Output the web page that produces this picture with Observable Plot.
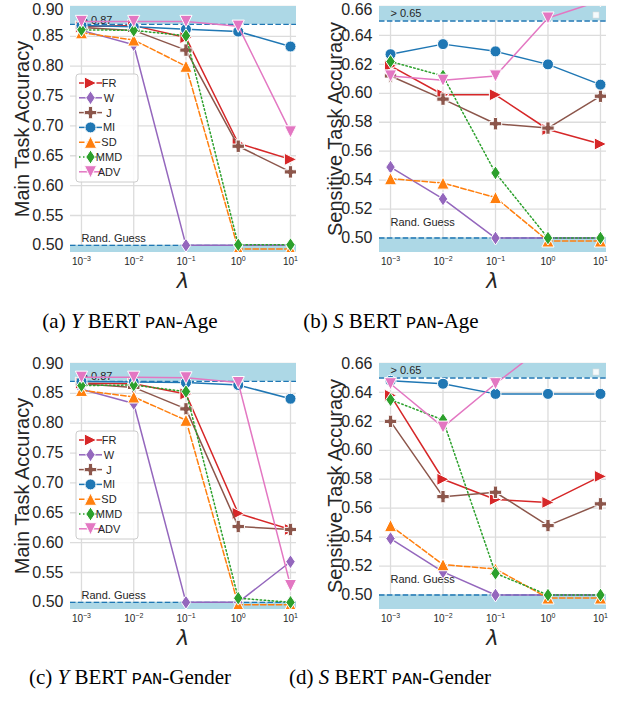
<!DOCTYPE html>
<html><head><meta charset="utf-8">
<script src="https://cdn.jsdelivr.net/npm/d3@7"></script>
<script src="https://cdn.jsdelivr.net/npm/@observablehq/plot@0.6"></script>
<style>
body{margin:0;background:#fff;}
#root{position:relative;width:622px;height:706px;overflow:hidden;font-family:"Liberation Sans",Arial,sans-serif;}
.panel{position:absolute;}
.cap{position:absolute;font-family:"Liberation Serif","Times New Roman",serif;font-size:21px;line-height:21px;color:#000;white-space:nowrap;transform:translateX(-50%);}
.cap .tt{font-family:"Liberation Mono",monospace;font-size:17px;}
</style></head><body><div id="root"></div>
<script>
// ---- data ----
const lambdas = [1e-3, 1e-2, 1e-1, 1, 10];
const methods = ["FR", "W", "J", "MI", "SD", "MMD", "ADV"];
const colors = ["#d62728", "#9467bd", "#8c564b", "#1f77b4", "#ff7f0e", "#2ca02c", "#e377c2"];
const markerKinds = ["triRight", "thinDiamond", "plus", "circle", "triUp", "thinDiamond", "triDown"];
const dashKinds = ["solid", "solid", "solid", "solid", "dashed", "dotted", "solid"];

// rows follow methods order; columns follow lambdas
const ageMain = [
  [0.866, 0.868, 0.848, 0.671, 0.644],
  [0.860, 0.836, 0.500, 0.500, 0.500],
  [0.865, 0.860, 0.827, 0.666, 0.623],
  [0.868, 0.866, 0.862, 0.858, 0.833],
  [0.856, 0.844, 0.800, 0.494, 0.494],
  [0.861, 0.860, 0.851, 0.501, 0.501],
  [0.875, 0.875, 0.875, 0.867, 0.690]
];
const ageSens = [
  [0.619, 0.599, 0.599, 0.575, 0.565],
  [0.549, 0.527, 0.500, 0.500, 0.500],
  [0.612, 0.596, 0.579, 0.576, 0.598],
  [0.627, 0.634, 0.629, 0.620, 0.606],
  [0.541, 0.538, 0.528, 0.498, 0.498],
  [0.622, 0.612, 0.545, 0.500, 0.500],
  [0.612, 0.609, 0.612, 0.652, 0.664]
];
const genderMain = [
  [0.867, 0.866, 0.849, 0.649, 0.622],
  [0.857, 0.833, 0.500, 0.500, 0.568],
  [0.866, 0.860, 0.824, 0.627, 0.622],
  [0.870, 0.869, 0.868, 0.864, 0.841],
  [0.855, 0.844, 0.805, 0.496, 0.496],
  [0.863, 0.864, 0.853, 0.507, 0.500],
  [0.877, 0.877, 0.876, 0.868, 0.528]
];
const genderSens = [
  [0.638, 0.580, 0.566, 0.564, 0.582],
  [0.539, 0.516, 0.500, 0.500, 0.500],
  [0.620, 0.568, 0.571, 0.548, 0.563],
  [0.648, 0.646, 0.639, 0.639, 0.639],
  [0.548, 0.521, 0.518, 0.498, 0.498],
  [0.635, 0.621, 0.515, 0.500, 0.500],
  [0.646, 0.616, 0.646, 0.674, 0.680]
];
const mainTicks = [0.50, 0.55, 0.60, 0.65, 0.70, 0.75, 0.80, 0.85, 0.90];
const sensTicks = [0.50, 0.52, 0.54, 0.56, 0.58, 0.60, 0.62, 0.64, 0.66];
const mainUpper = 0.87, sensUpper = 0.65, randGuess = 0.50;
const captions = [
  ["(a) ", "Y", "Age"], ["(b) ", "S", "Age"], ["(c) ", "Y", "Gender"], ["(d) ", "S", "Gender"]
];

// ---- symbols (matplotlib-like markers) ----
function rOf(size) { return Math.sqrt(size / Math.PI); }
const symbols = {
  circle: { draw(c, s) { const r = rOf(s) * 0.96; c.moveTo(r, 0); c.arc(0, 0, r, 0, 2 * Math.PI); } },
  triUp: { draw(c, s) { const h = rOf(s) * 1.06; c.moveTo(0, -h); c.lineTo(h, h); c.lineTo(-h, h); c.closePath(); } },
  triDown: { draw(c, s) { const h = rOf(s) * 1.06; c.moveTo(0, h); c.lineTo(h, -h); c.lineTo(-h, -h); c.closePath(); } },
  triRight: { draw(c, s) { const h = rOf(s) * 1.06; c.moveTo(h, 0); c.lineTo(-h, h); c.lineTo(-h, -h); c.closePath(); } },
  thinDiamond: { draw(c, s) { const r = rOf(s); const hh = r * 1.22, hw = r * 0.82; c.moveTo(0, -hh); c.lineTo(hw, 0); c.lineTo(0, hh); c.lineTo(-hw, 0); c.closePath(); } },
  plus: { draw(c, s) { const r = rOf(s); const e = r * 1.08, t = r * 0.37;
    c.moveTo(-t, -e); c.lineTo(t, -e); c.lineTo(t, -t); c.lineTo(e, -t); c.lineTo(e, t); c.lineTo(t, t);
    c.lineTo(t, e); c.lineTo(-t, e); c.lineTo(-t, t); c.lineTo(-e, t); c.lineTo(-e, -t); c.lineTo(-t, -t); c.closePath(); } }
};
const dashArr = { solid: null, dashed: "5.5,2.4", dotted: "1.5,2.5" };
const R = 5.75;

const root = document.getElementById("root");
const W = 311, H = 300;
const M = { top: 6, bottom: 48 };
const xDomain = [10 ** -3.21, 10 ** 1.115];

function makePanel(values, cfg) {
  const yTicks = cfg.ticks;
  const yDomain = cfg.yDomain;
  const bands = [{ lo: yDomain[0], hi: randGuess }, { lo: cfg.upper, hi: yDomain[1] }];
  const marks = [
    Plot.gridY(yTicks, { stroke: "#dcdcdc", strokeOpacity: 1, strokeWidth: 1.3 }),
    Plot.gridX(lambdas, { stroke: "#dcdcdc", strokeOpacity: 1, strokeWidth: 1.3 }),
    Plot.rect(bands, { y1: "lo", y2: "hi", fill: "#add8e6" }),
    Plot.ruleY([randGuess, cfg.upper], { stroke: "#1f77b4", strokeWidth: 1.4, strokeDasharray: "5.5,2.4" }),
    Plot.text([cfg.upper], { x: lambdas[0], y: d => d, text: d => "> " + d.toFixed(2), textAnchor: "start", lineAnchor: "middle", dy: cfg.dyTop, fontSize: 11, fill: "#262626" }),
    Plot.text([randGuess], { x: lambdas[0], y: d => d, text: () => "Rand. Guess", textAnchor: "start", lineAnchor: "middle", dy: cfg.dyBottom, fontSize: 11, fill: "#262626" })
  ];
  methods.forEach((m, i) => {
    const rows = lambdas.map((l, j) => ({ method: m, lambda: l, value: values[i][j] }));
    const da = dashArr[dashKinds[i]];
    const lineOpts = { x: "lambda", y: "value", stroke: colors[i], strokeWidth: 1.5, clip: true };
    if (da) lineOpts.strokeDasharray = da;
    marks.push(Plot.line(rows, lineOpts));
    marks.push(Plot.dot(rows, { x: "lambda", y: "value", symbol: symbols[markerKinds[i]], r: R, fill: colors[i], stroke: "white", strokeWidth: 1, clip: true }));
  });
  marks.push(Plot.axisY(yTicks, { tickSize: 0, tickPadding: 7, fontSize: 16, label: null, tickFormat: d => d.toFixed(2) }));
  marks.push(Plot.axisX(lambdas, { tickSize: 0, tickPadding: 5, fontSize: 10, label: null, tickFormat: d => "10^" + Math.round(Math.log10(d)) }));

  const svg = Plot.plot({
    width: W, height: H,
    marginLeft: cfg.ml, marginRight: cfg.mr, marginTop: M.top, marginBottom: M.bottom,
    x: { type: "log", domain: xDomain },
    y: { domain: yDomain },
    style: { fontFamily: "'Liberation Sans', Arial, sans-serif", color: "#262626", background: "transparent", overflow: "visible" },
    marks
  });
  const wrap = document.createElement("div");
  wrap.className = "panel";
  wrap.style.left = cfg.left + "px";
  wrap.style.top = cfg.top + "px";
  wrap.appendChild(svg);
  root.appendChild(wrap);

  const s = d3.select(svg);
  const topLabel = yTicks[yTicks.length - 1].toFixed(2);
  const svgTop = svg.getBoundingClientRect().top;
  s.selectAll("text").each(function () {
    const t = this.textContent;
    const m = /^10\^(-?\d+)$/.exec(t);
    if (m) {
      // superscript x tick labels
      const el = d3.select(this);
      el.text(null);
      el.append("tspan").text("10");
      el.append("tspan").attr("dy", "-0.45em").attr("font-size", "7px").text(m[1].replace("-", "\u2212"));
    } else if (cfg.nudgeTop && t === topLabel) {
      // keep the top tick label inside the page
      const top = this.getBoundingClientRect().top - svgTop;
      const shift = Math.min(3, Math.max(0, 0.5 - top));
      if (shift > 0) {
        const tr = this.getAttribute("transform") || "";
        this.setAttribute("transform", (tr + ` translate(0,${shift.toFixed(2)})`).trim());
      }
    }
  });
  const plotL = cfg.ml, plotR = W - cfg.mr, plotT = M.top, plotB = H - M.bottom;
  // y label
  s.append("text")
    .attr("transform", `translate(${cfg.ylx},${(plotT + plotB) / 2}) rotate(-90)`)
    .attr("text-anchor", "middle").attr("dominant-baseline", "central")
    .attr("font-size", 20).attr("fill", "#262626")
    .attr("font-family", "'Liberation Sans', Arial, sans-serif")
    .text(cfg.ylabel);
  // x label lambda
  s.append("text")
    .attr("x", (plotL + plotR) / 2).attr("y", 281)
    .attr("text-anchor", "middle").attr("dominant-baseline", "central")
    .attr("font-size", 21).attr("fill", "#262626")
    .attr("font-family", "'DejaVu Sans', sans-serif").attr("font-style", "italic")
    .text("\u03bb");
  if (cfg.legend) {
    const g = s.append("g").attr("transform", "translate(76,74)");
    g.append("rect").attr("width", 62).attr("height", 108).attr("rx", 3)
      .attr("fill", "white").attr("fill-opacity", 0.85).attr("stroke", "#cccccc");
    methods.forEach((m, i) => {
      const cy = 9 + i * 14.8;
      const line = g.append("line").attr("x1", 3).attr("x2", 26).attr("y1", cy).attr("y2", cy)
        .attr("stroke", colors[i]).attr("stroke-width", 1.5);
      const da = dashArr[dashKinds[i]];
      if (da) line.attr("stroke-dasharray", da);
      g.append("path").attr("transform", `translate(14.5,${cy})`)
        .attr("d", d3.symbol(symbols[markerKinds[i]], Math.PI * R * R)())
        .attr("fill", colors[i]).attr("stroke", "white").attr("stroke-width", 1);
      g.append("text").attr("x", 33).attr("y", cy).attr("dominant-baseline", "central")
        .attr("font-size", 11).attr("fill", "#262626")
        .attr("font-family", "'Liberation Sans', Arial, sans-serif").text(m);
    });
  } else {
    s.append("rect").attr("x", plotR - 13).attr("y", plotT + 6).attr("width", 6).attr("height", 6)
      .attr("fill", "#f4fbfd").attr("stroke", "#dddddd").attr("stroke-width", 0.6);
  }
}

const mainDomain = [0.488, 0.90];
const sensDomain = [0.490, 0.66];
makePanel(ageMain, { left: 0, top: 0, ml: 70, mr: 15, ticks: mainTicks, yDomain: mainDomain, upper: mainUpper, dyTop: -4, dyBottom: -7, ylabel: "Main Task Accuracy", ylx: 22, legend: true, nudgeTop: true });
makePanel(ageSens, { left: 311, top: 0, ml: 68, mr: 16, ticks: sensTicks, yDomain: sensDomain, upper: sensUpper, dyTop: -7.5, dyBottom: -15.5, ylabel: "Sensitive Task Accuracy", ylx: 24, legend: false, nudgeTop: true });
makePanel(genderMain, { left: 0, top: 357, ml: 70, mr: 15, ticks: mainTicks, yDomain: mainDomain, upper: mainUpper, dyTop: -4.5, dyBottom: -7, ylabel: "Main Task Accuracy", ylx: 22, legend: true });
makePanel(genderSens, { left: 311, top: 357, ml: 68, mr: 16, ticks: sensTicks, yDomain: sensDomain, upper: sensUpper, dyTop: -7.5, dyBottom: -15.5, ylabel: "Sensitive Task Accuracy", ylx: 24, legend: false });

// captions
const capPos = [[130, 311], [391, 311], [130, 667], [390, 667]];
captions.forEach((c, i) => {
  const d = document.createElement("div");
  d.className = "cap";
  d.style.left = capPos[i][0] + "px";
  d.style.top = capPos[i][1] + "px";
  d.innerHTML = `${c[0]}<i>${c[1]}</i> BERT <span class="tt">PAN</span>-${c[2]}`;
  root.appendChild(d);
});
</script></body></html>
